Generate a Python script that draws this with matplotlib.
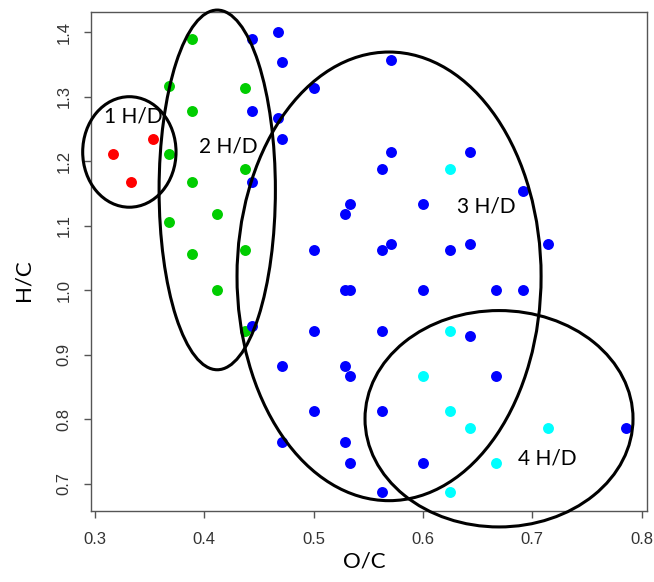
import matplotlib
matplotlib.use("Agg")
import matplotlib.pyplot as plt
from matplotlib.patches import Ellipse

# ---- data (O/C, H/C) ----
red_x = [0.316, 0.353, 0.333]
red_y = [1.211, 1.235, 1.167]

green_x = [0.389, 0.368, 0.4375, 0.389, 0.368, 0.4375, 0.389, 0.412, 0.368, 0.389, 0.4375, 0.412, 0.4375]
green_y = [1.389, 1.316, 1.3125, 1.278, 1.211, 1.1875, 1.167, 1.118, 1.105, 1.056, 1.0625, 1.000, 0.9375]

blue_x = [0.444, 0.467, 0.471, 0.500, 0.444, 0.467, 0.471, 0.444, 0.500,
          0.571, 0.571, 0.5625, 0.643, 0.692, 0.533, 0.529, 0.600, 0.714,
          0.571, 0.5625, 0.643, 0.625, 0.529, 0.533, 0.600, 0.667, 0.692,
          0.444, 0.500, 0.471, 0.500, 0.471, 0.5625, 0.643, 0.529, 0.533,
          0.667, 0.5625, 0.786, 0.529, 0.533, 0.600, 0.5625]
blue_y = [1.389, 1.400, 1.353, 1.3125, 1.278, 1.267, 1.235, 1.167, 1.0625,
          1.357, 1.214, 1.1875, 1.214, 1.154, 1.133, 1.118, 1.133, 1.071,
          1.071, 1.0625, 1.071, 1.0625, 1.000, 1.000, 1.000, 1.000, 1.000,
          0.944, 0.9375, 0.882, 0.8125, 0.765, 0.9375, 0.929, 0.882, 0.867,
          0.867, 0.8125, 0.786, 0.765, 0.733, 0.733, 0.6875]

cyan_x = [0.625, 0.625, 0.600, 0.625, 0.643, 0.714, 0.667, 0.625]
cyan_y = [1.1875, 0.9375, 0.867, 0.8125, 0.786, 0.786, 0.733, 0.6875]

# groups (ellipses) in data units: centre x, centre y, full width, full height
group_labels = ["1 H/D", "2 H/D", "3 H/D", "4 H/D"]
ell_cx = [0.3314, 0.4118, 0.569, 0.6696]
ell_cy = [1.2142, 1.1554, 1.0215, 0.8009]
ell_w = [0.0854, 0.1064, 0.2782, 0.2452]
ell_h = [0.1712, 0.5572, 0.6950, 0.3352]
label_x = [0.335, 0.422, 0.6584, 0.714]
label_y = [1.2689, 1.2224, 1.1291, 0.739]

x_ticks = [0.3, 0.4, 0.5, 0.6, 0.7, 0.8]
y_ticks = [0.7, 0.8, 0.9, 1.0, 1.1, 1.2, 1.3, 1.4]

fig = plt.figure(figsize=(6.54, 5.82), dpi=100)
ax = fig.add_axes([91/654, 1 - 511/582, (647-91)/654, (511-12)/582])

ms = 62
ax.scatter(red_x, red_y, s=ms, c="#FF0000", linewidths=0, zorder=3)
ax.scatter(green_x, green_y, s=ms, c="#00CD00", linewidths=0, zorder=3)
ax.scatter(blue_x, blue_y, s=ms, c="#0000FF", linewidths=0, zorder=3)
ax.scatter(cyan_x, cyan_y, s=ms, c="#00FFFF", linewidths=0, zorder=3)

for cx, cy, w, h in zip(ell_cx, ell_cy, ell_w, ell_h):
    e = Ellipse((cx, cy), w, h, fill=False, edgecolor="black", linewidth=2.2,
                clip_on=False, zorder=4)
    ax.add_patch(e)

for t, x, y in zip(group_labels, label_x, label_y):
    ax.text(x, y, t, ha="center", va="center", fontsize=15, family="Lato",
            color="black", zorder=5)

ax.set_xlim(0.2963, 0.805)
ax.set_ylim(0.658, 1.431)
ax.set_xticks(x_ticks)
ax.set_yticks(y_ticks)
ax.set_xticklabels([f"{v:.1f}" for v in x_ticks])
ax.set_yticklabels([f"{v:.1f}" for v in y_ticks], rotation=90, va="center")

for s in ax.spines.values():
    s.set_color("#555555")
    s.set_linewidth(1.0)
ax.tick_params(axis="both", direction="out", length=5, width=1.0,
               color="#555555", labelsize=12, labelcolor="#333333")
ax.tick_params(axis="x", pad=10)
ax.tick_params(axis="y", pad=9)
for lab in ax.get_xticklabels() + ax.get_yticklabels():
    lab.set_family("Liberation Sans")

ax.set_xlabel("O/C", fontsize=16, family="Lato")
ax.set_ylabel("H/C", fontsize=16, family="Lato")
ax.xaxis.set_label_coords(0.491, -0.102)
ax.yaxis.set_label_coords(-0.121, 0.463)
ax.xaxis.label.set_va("center")
ax.yaxis.label.set_va("center")

fig.savefig("out.png", dpi=100)
